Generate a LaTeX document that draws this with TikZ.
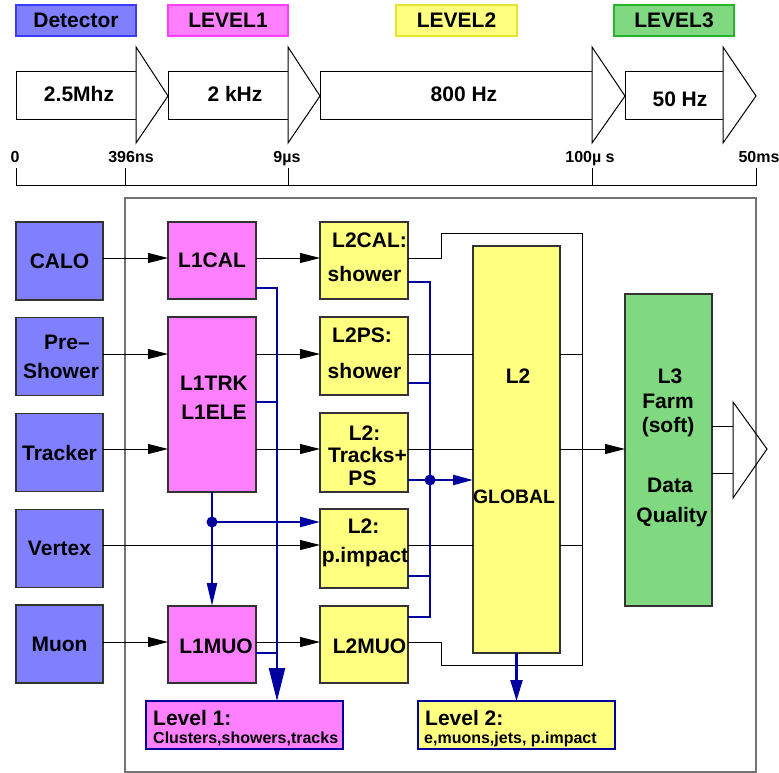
\documentclass[tikz,border=0pt]{standalone}
\usepackage{fontspec}
\setmainfont{Liberation Sans}
\usetikzlibrary{arrows.meta}
\newcommand\fsz[1]{\fontsize{#1}{#1}\selectfont\bfseries}
\definecolor{cblue}{RGB}{128,128,255}
\definecolor{cmag}{RGB}{255,128,255}
\definecolor{cyel}{RGB}{255,255,128}
\definecolor{cgrn}{RGB}{128,216,128}
\definecolor{dblue}{RGB}{0,0,160}
\definecolor{hblue}{RGB}{60,60,255}
\definecolor{hmag}{RGB}{255,60,255}
\definecolor{hyel}{RGB}{230,230,50}
\definecolor{hgrn}{RGB}{40,180,40}
\begin{document}
\begin{tikzpicture}[x=1pt,y=-1pt,
  bx/.style={draw=black!80, line width=1.3pt, inner sep=0pt, outer sep=0pt, font=\fsz{21}, minimum width=87pt, minimum height=78pt},
  hdr/.style={line width=1.2pt, inner sep=0pt, outer sep=0pt, minimum width=120pt, minimum height=31pt, font=\fsz{21}},
  rate/.style={draw=black, line width=1pt, fill=white, minimum height=48pt, inner sep=0pt, outer sep=0pt, font=\fsz{21}},
  tri/.style={draw=black, line width=1pt, fill=white, line join=miter},
  txt/.style={font=\fsz{21}, inner sep=0pt, anchor=base},
  tick/.style={font=\fsz{16}, inner sep=0pt, anchor=base},
  frm/.style={draw=black!55, line width=1.3pt},
  blk/.style={draw=black, line width=1pt},
  arr/.style={-{Triangle[length=20pt,width=10pt]}},
  blu/.style={draw=dblue, line width=2.3pt},
  barr/.style={-{Triangle[length=20pt,width=10pt]}},
  lvl/.style={draw=dblue, line width=2pt, minimum width=197pt, minimum height=48pt, inner sep=0pt, outer sep=0pt}
]
\useasboundingbox (0,0) rectangle (779,773);
% frame
\draw[frm] (125,198) rectangle (756,772);
% header
\node[hdr, fill=cblue, draw=hblue] (hdet) at (76,20.5) {Detector};
\node[hdr, fill=cmag, draw=hmag] (hl1) at (228,20.5) {LEVEL1};
\node[hdr, fill=cyel, draw=hyel, minimum width=121pt] (hl2) at (456.5,20.5) {LEVEL2};
\node[hdr, fill=cgrn, draw=hgrn] (hl3) at (674,20.5) {LEVEL3};
% rates
\node[rate, minimum width=120pt] (r1) at (76,96) {};
\node[rate, minimum width=120pt] (r2) at (228,96) {};
\node[rate, minimum width=272pt] (r3) at (456,96) {};
\node[rate, minimum width=98pt] (r4) at (674,96) {};
\draw[tri] (136,47) -- (168,96) -- (136,143) -- cycle;
\draw[tri] (288,47) -- (320,96) -- (288,143) -- cycle;
\draw[tri] (592,47) -- (625,96) -- (592,143) -- cycle;
\draw[tri] (723,47) -- (756,96) -- (723,143) -- cycle;
\node[txt] (r1t) at (79,102) {2.5Mhz};
\node[txt] (r2t) at (235,102) {2 kHz};
\node[txt] (r3t) at (464,102) {800 Hz};
\node[txt] (r4t) at (680,107) {50 Hz};
% time line
\draw[blk] (16,168) -- (16,185) -- (756,185) -- (756,168);
\draw[blk] (125,168) -- (125,185);
\draw[blk] (288,168) -- (288,185);
\draw[blk] (592,168) -- (592,185);
\node[tick] (t0) at (15,162) {0};
\node[tick] (t1) at (131,162) {396ns};
\node[tick] (t2) at (287,162) {9µs};
\node[tick] (t3) at (590,162) {100µ s};
\node[tick] (t4) at (759,162) {50ms};
% detectors
\node[bx, fill=cblue] (calo) at (59.5,261) {CALO};
\node[bx, fill=cblue] (pre) at (59.5,356.5) {};
\node[txt] (pre1) at (67,349) {Pre–};
\node[txt] (pre2) at (61,378) {Shower};
\node[bx, fill=cblue] (trk) at (59.5,452.5) {Tracker};
\node[bx, fill=cblue] (vtx) at (59.5,548.5) {Vertex};
\node[bx, fill=cblue] (muon) at (59.5,644) {Muon};
% level 1
\node[bx, fill=cmag, minimum width=88pt, minimum height=77pt] (l1cal) at (212,260.5) {L1CAL};
\node[bx, fill=cmag, minimum width=88pt, minimum height=175pt] (l1trk) at (212,404.5) {};
\node[txt] (l1trka) at (214,390) {L1TRK};
\node[txt] (l1trkb) at (214,419) {L1ELE};
\node[bx, fill=cmag, minimum width=88pt, minimum height=77pt] (l1muo) at (212,644.5) {};
\node[txt] (l1muot) at (216,653) {L1MUO};
% level 2
\node[bx, fill=cyel, minimum width=88pt, minimum height=77pt] (l2cal) at (364,260.5) {};
\node[txt] (l2cala) at (369.5,247) {L2CAL:};
\node[txt] (l2calb) at (364.5,281) {shower};
\node[bx, fill=cyel, minimum width=88pt, minimum height=78pt] (l2ps) at (364,356) {};
\node[txt] (l2psa) at (362,342) {L2PS:};
\node[txt] (l2psb) at (364.5,378) {shower};
\node[bx, fill=cyel, minimum width=88pt, minimum height=79pt] (l2trk) at (364,452.5) {};
\node[txt] (l2trka) at (364.5,440) {L2:};
\node[txt] (l2trkb) at (367.5,462) {Tracks+};
\node[txt] (l2trkc) at (362.5,485) {PS};
\node[bx, fill=cyel, minimum width=88pt, minimum height=79pt] (l2imp) at (364,548.5) {};
\node[txt] (l2impa) at (363.5,533) {L2:};
\node[txt] (l2impb) at (365,562) {p.impact};
\node[bx, fill=cyel, minimum width=88pt, minimum height=77pt] (l2muo) at (364,644.5) {};
\node[txt] (l2muot) at (369.5,653) {L2MUO};
% global L2
\node[bx, fill=cyel, minimum height=407pt] (l2g) at (516.5,449.5) {};
\node[txt] (l2ga) at (518,383) {L2};
\node[txt, font=\fsz{19.4}] (l2gb) at (514,503) {GLOBAL};
% L3
\node[bx, fill=cgrn, minimum height=312pt] (l3) at (668.5,450) {};
\node[txt] (l3a) at (670,383) {L3};
\node[txt] (l3b) at (668,408) {Farm};
\node[txt] (l3c) at (668,432) {(soft)};
\node[txt] (l3d) at (670,492) {Data};
\node[txt] (l3e) at (672,522) {Quality};
% result boxes
\node[lvl, fill=cmag] (lvl1) at (244.5,725) {};
\node[txt, anchor=base west] (lvl1a) at (153,725) {Level 1:};
\node[txt, font=\fsz{16}, anchor=base west] (lvl1b) at (153,743) {Clusters,showers,tracks};
\node[lvl, fill=cyel] (lvl2) at (516.5,725) {};
\node[txt, anchor=base west] (lvl2a) at (425,725) {Level 2:};
\node[txt, font=\fsz{16}, anchor=base west] (lvl2b) at (424,743) {e,muons,jets, p.impact};
% black connectors
\draw[blk,arr] (calo.east |- 0,258) -- (l1cal.west |- 0,258);
\draw[blk,arr] (pre.east |- 0,354) -- (l1trk.west |- 0,354);
\draw[blk,arr] (trk.east |- 0,449) -- (l1trk.west |- 0,449);
\draw[blk,arr] (vtx.east |- 0,545) -- (l2imp.west |- 0,545);
\draw[blk,arr] (muon.east |- 0,642) -- (l1muo.west |- 0,642);
\draw[blk,arr] (l1cal.east |- 0,258) -- (l2cal.west |- 0,258);
\draw[blk,arr] (l1trk.east |- 0,354) -- (l2ps.west |- 0,354);
\draw[blk,arr] (l1trk.east |- 0,449) -- (l2trk.west |- 0,449);
\draw[blk,arr] (l1muo.east |- 0,642) -- (l2muo.west |- 0,642);
\draw[blk] (l2ps.east |- 0,354) -- (l2g.west |- 0,354);
\draw[blk] (l2trk.east |- 0,449) -- (l2g.west |- 0,449);
\draw[blk] (l2imp.east |- 0,545) -- (l2g.west |- 0,545);
\draw[blk,arr] (l2g.east |- 0,449) -- (l3.west |- 0,449);
\draw[blk] (l2cal.east |- 0,258) -- (441,258) -- (441,233) -- (582,233) -- (582,665) -- (441,665) -- (441,642) -- (l2muo.east |- 0,642);
\draw[blk] (l2g.east |- 0,354) -- (582,354);
\draw[blk] (l2g.east |- 0,545) -- (582,545);
% L3 output
\coordinate (o1) at (733,426);
\coordinate (o2) at (733,473);
\draw[blk] (l3.east |- o1) -- (o1);
\draw[blk] (l3.east |- o2) -- (o2);
\draw[blk, line join=miter] (733,402) -- (767,449) -- (733,498) -- cycle;
% blue connectors
\coordinate (b1a) at (277,288);
\draw[blu, -{Triangle[length=33pt,width=16pt]}] (l1cal.east |- b1a) -- (b1a) -- (b1a |- lvl1.north);
\draw[blu] (l1trk.east |- 0,402) -- (277,402);
\draw[blu] (l1muo.east |- 0,653) -- (277,653);
\coordinate (d1) at (212,522);
\draw[blu, -{Triangle[length=23pt,width=10pt]}] (l1trk.south) -- (l1muo.north);
\draw[blu, barr] (d1) -- (l2imp.west |- d1);
\fill[dblue] (d1) circle (5.5pt);
\coordinate (b2a) at (430,282);
\coordinate (b2e) at (430,617);
\draw[blu] (l2cal.east |- b2a) -- (b2a) -- (b2e) -- (l2muo.east |- b2e);
\draw[blu] (l2ps.east |- 0,383) -- (430,383);
\draw[blu] (l2imp.east |- 0,576) -- (430,576);
\coordinate (d2) at (430,480);
\draw[blu, barr] (l2trk.east |- d2) -- (d2) -- (l2g.west |- d2);
\fill[dblue] (d2) circle (5.5pt);
\draw[blu, -{Triangle[length=21pt,width=12pt]}] (l2g.south) -- (lvl2.north);
\end{tikzpicture}
\end{document}
